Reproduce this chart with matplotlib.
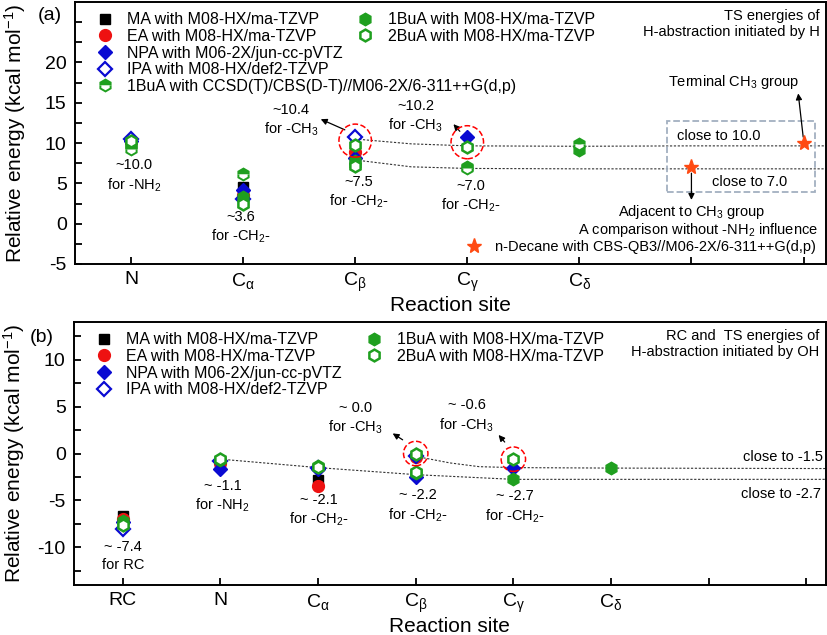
import matplotlib
matplotlib.use('Agg')
import matplotlib.pyplot as plt
from matplotlib.lines import Line2D
from matplotlib.legend import Legend
from matplotlib.patches import Ellipse, Rectangle

plt.rcParams['font.family'] = ['Liberation Sans', 'DejaVu Sans']
plt.rcParams['mathtext.fontset'] = 'custom'
plt.rcParams['mathtext.rm'] = 'Liberation Sans'
plt.rcParams['mathtext.it'] = 'Liberation Sans:italic'
plt.rcParams['axes.unicode_minus'] = False

# ---- panel (a): TS energies, H + amines ----
sites_a = ['N', r'$\mathregular{C_{α}}$', r'$\mathregular{C_{β}}$', r'$\mathregular{C_{γ}}$',
           r'$\mathregular{C_{δ}}$', '', '']
ma_x_a, ma_y_a = [1, 2], [10.0, 4.6]
ea_x_a, ea_y_a = [1, 2, 3], [10.1, 3.6, 8.9]
npa_x_a, npa_y_a = [1, 2, 3, 4], [10.2, 4.2, 8.1, 10.7]
ipa_x_a, ipa_y_a = [1, 2, 3], [10.5, 3.0, 10.7]
bua1_x_a, bua1_y_a = [1, 2, 3, 4, 5], [9.8, 3.3, 7.8, 7.0, 9.1]
ccsd_x_a, ccsd_y_a = [1, 2, 3, 4, 5], [9.3, 6.2, 7.4, 6.9, 9.9]
bua2_x_a, bua2_y_a = [1, 2, 3, 3, 4], [10.3, 2.5, 9.8, 7.2, 9.5]
decane_x, decane_y = [6, 7], [7.0, 10.0]
trend_hi_a_x, trend_hi_a_y = [3, 3.5, 4, 5, 6, 7.2], [10.5, 9.9, 9.65, 9.6, 9.65, 9.65]
trend_lo_a_x, trend_lo_a_y = [3, 3.5, 4, 5, 6, 7.2], [7.9, 7.05, 6.85, 6.8, 6.8, 6.8]

# ---- panel (b): RC and TS energies, OH + amines ----
sites_b = ['RC', 'N', r'$\mathregular{C_{α}}$', r'$\mathregular{C_{β}}$', r'$\mathregular{C_{γ}}$',
           r'$\mathregular{C_{δ}}$', '', '']
ma_x_b, ma_y_b = [1, 2, 3], [-6.6, -1.0, -2.8]
ea_x_b, ea_y_b = [1, 2, 3, 4], [-7.0, -1.0, -3.5, -0.4]
npa_x_b, npa_y_b = [1, 2, 3, 4, 5], [-7.3, -1.7, -1.6, -2.5, -1.5]
ipa_x_b, ipa_y_b = [1, 2, 3, 4], [-8.0, -0.8, -1.5, -0.3]
bua1_x_b, bua1_y_b = [1, 2, 3, 4, 5, 6], [-7.2, -0.7, -1.3, -2.1, -2.7, -1.5]
bua2_x_b, bua2_y_b = [1, 2, 3, 4, 4, 5], [-7.6, -0.6, -1.4, -0.1, -2.0, -0.6]
trend_hi_b_x, trend_hi_b_y = [4, 4.35, 4.65, 5, 6, 8.2], [-0.3, -1.0, -1.4, -1.5, -1.55, -1.6]
trend_lo_b_x, trend_lo_b_y = [2, 3, 4, 5, 6, 8.2], [-0.6, -1.5, -2.25, -2.75, -2.75, -2.75]

BLACK = 'black'
RED = '#ee1111'
BLUE = '#0a0ad2'
GREEN = '#1f9f1f'
STAR = '#ff4a12'

styles = {
    'MA': dict(marker='s', color=BLACK, ms=7.5, ls='none'),
    'EA': dict(marker='o', color=RED, ms=8.5, ls='none'),
    'NPA': dict(marker='D', color=BLUE, ms=7.5, ls='none'),
    'IPA': dict(marker='D', color=BLUE, mfc='white', mew=1.6, ms=7.5, ls='none'),
    '1BuA': dict(marker='h', color=GREEN, ms=9, ls='none'),
    'CCSD': dict(marker='h', color=GREEN, fillstyle='top', mfcalt='white', mew=1.4, ms=8.5, ls='none'),
    '2BuA': dict(marker='h', color=GREEN, mfc='white', mew=1.8, ms=8.5, ls='none'),
}
labels = {
    'MA': 'MA with M08-HX/ma-TZVP',
    'EA': 'EA with M08-HX/ma-TZVP',
    'NPA': 'NPA with M06-2X/jun-cc-pVTZ',
    'IPA': 'IPA with M08-HX/def2-TZVP',
    '1BuA': '1BuA with M08-HX/ma-TZVP',
    'CCSD': '1BuA with CCSD(T)/CBS(D-T)//M06-2X/6-311++G(d,p)',
    '2BuA': '2BuA with M08-HX/ma-TZVP',
}
LEG_FS = 11.5
TXT_FS = 10.5
ARROW = dict(arrowstyle='-|>', color='black', lw=0.9, mutation_scale=9)


def style_axes(ax, sites, ylim, yticks, yminor):
    ax.set_xlim(0.5, len(sites) + 0.2)
    ax.set_ylim(*ylim)
    ax.set_xticks(range(1, len(sites) + 1))
    ax.set_xticklabels(sites, fontsize=14)
    ax.set_yticks(yticks)
    ax.set_yticks(yminor, minor=True)
    ax.tick_params(axis='y', labelsize=14, pad=6)
    ax.tick_params(axis='x', pad=5)
    ax.tick_params(which='both', direction='in', length=5, width=1.3, top=False, right=False)
    ax.tick_params(axis='x', which='minor', bottom=False)
    for s in ax.spines.values():
        s.set_linewidth(1.4)
    ax.set_xlabel('Reaction site', fontsize=15, labelpad=1)
    ax.set_ylabel(r'Relative energy (kcal mol$^{\mathregular{-1}}$)', fontsize=15)
    ax.yaxis.set_label_coords(-0.062, 0.5)


def legends(ax, keys1, keys2, x2):
    for keys, x0 in [(keys1, 0.015), (keys2, x2)]:
        hs = [Line2D([], [], **styles[k]) for k in keys]
        leg = Legend(ax, hs, [labels[k] for k in keys], loc='upper left', bbox_to_anchor=(x0, 1.0),
                     frameon=False, fontsize=LEG_FS, handlelength=1.0, handletextpad=0.9,
                     labelspacing=0.1, borderaxespad=0.25)
        ax.add_artist(leg)


fig = plt.figure(figsize=(8.27, 6.35), dpi=100)
ax1 = fig.add_axes([0.0907, 0.5843, 0.908, 0.4126])
ax2 = fig.add_axes([0.0895, 0.0787, 0.909, 0.4142])

# ---------- (a) ----------
ax = ax1
ax.plot(trend_hi_a_x, trend_hi_a_y, ls=(0, (2, 1.5)), color='#333333', lw=0.8, zorder=1)
ax.plot(trend_lo_a_x, trend_lo_a_y, ls=(0, (2, 1.5)), color='#333333', lw=0.8, zorder=1)
ax.plot(ma_x_a, ma_y_a, **styles['MA'])
ax.plot(ea_x_a, ea_y_a, **styles['EA'])
ax.plot(npa_x_a, npa_y_a, **styles['NPA'])
ax.plot(ipa_x_a, ipa_y_a, **styles['IPA'])
ax.plot(bua1_x_a, bua1_y_a, **styles['1BuA'])
ax.plot(ccsd_x_a, ccsd_y_a, **styles['CCSD'])
ax.plot(bua2_x_a, bua2_y_a, **styles['2BuA'])
star, = ax.plot(decane_x, decane_y, marker='*', color=STAR, ms=11, ls='none', zorder=4)

for xc, yc in [(3, 10.3), (4, 10.1)]:
    ax.add_patch(Ellipse((xc, yc), 0.29, 4.1, fill=False, ec='red', ls='--', lw=1.1, zorder=5))
ax.add_patch(Rectangle((5.78, 3.9), 1.32, 8.85, fill=False, ec='#a3b0c0', ls='--', lw=1.3, zorder=1))

ax.text(1.03, 5.9, '~10.0\nfor -NH$_\\mathregular{2}$', ha='center', va='center', fontsize=TXT_FS, linespacing=1.3)
ax.text(1.98, -0.5, '~3.6\nfor -CH$_\\mathregular{2}$-', ha='center', va='center', fontsize=TXT_FS, linespacing=1.3)
ax.text(3.03, 3.9, '~7.5\nfor -CH$_\\mathregular{2}$-', ha='center', va='center', fontsize=TXT_FS, linespacing=1.3)
ax.text(4.03, 3.4, '~7.0\nfor -CH$_\\mathregular{2}$-', ha='center', va='center', fontsize=TXT_FS, linespacing=1.3)
ax.text(2.43, 12.8, '~10.4\nfor -CH$_\\mathregular{3}$', ha='center', va='center', fontsize=TXT_FS, linespacing=1.3)
ax.annotate('', xy=(2.67, 13.1), xytext=(2.93, 11.5), arrowprops=ARROW)
ax.text(3.54, 13.3, '~10.2\nfor -CH$_\\mathregular{3}$', ha='center', va='center', fontsize=TXT_FS, linespacing=1.3)
ax.annotate('', xy=(3.86, 12.6), xytext=(3.95, 11.2), arrowprops=ARROW)
ax.text(6.38, 17.6, 'Terminal CH$_\\mathregular{3}$ group', ha='center', va='center', fontsize=TXT_FS)
ax.annotate('', xy=(6.95, 16.5), xytext=(7.0, 10.4), arrowprops=ARROW)
ax.text(5.87, 10.9, 'close to 10.0', ha='left', va='center', fontsize=TXT_FS)
ax.text(6.52, 5.2, 'close to 7.0', ha='center', va='center', fontsize=TXT_FS)
ax.annotate('', xy=(6.0, 2.6), xytext=(6.0, 6.6), arrowprops=ARROW)
ax.text(6.0, 1.4, 'Adjacent to CH$_\\mathregular{3}$ group', ha='center', va='center', fontsize=TXT_FS)
ax.text(7.13, -0.75, 'A comparison without -NH$_\\mathregular{2}$ influence', ha='right', va='center', fontsize=TXT_FS)
ax.text(0.992, 0.975, 'TS energies of\nH-abstraction initiated by H', transform=ax.transAxes,
        ha='right', va='top', fontsize=TXT_FS, linespacing=1.25)
ax.text(-0.033, 0.95, '(a)', transform=ax.transAxes, ha='center', va='center', fontsize=14)

style_axes(ax, sites_a, (-5, 27.5), [-5, 0, 5, 10, 15, 20], [-2.5, 2.5, 7.5, 12.5, 17.5, 22.5, 25])
legends(ax, ['MA', 'EA', 'NPA', 'IPA', 'CCSD'], ['1BuA', '2BuA'], 0.362)
ax.legend([star], ['n-Decane with CBS-QB3//M06-2X/6-311++G(d,p)'], loc='lower right',
          bbox_to_anchor=(1.0, 0.0), frameon=False, fontsize=TXT_FS, handlelength=1.0,
          handletextpad=0.9, borderaxespad=0.3)

# ---------- (b) ----------
ax = ax2
ax.plot(trend_hi_b_x, trend_hi_b_y, ls=(0, (2, 1.5)), color='#333333', lw=0.8, zorder=1)
ax.plot(trend_lo_b_x, trend_lo_b_y, ls=(0, (2, 1.5)), color='#333333', lw=0.8, zorder=1)
ax.plot(ma_x_b, ma_y_b, **styles['MA'])
ax.plot(ea_x_b, ea_y_b, **styles['EA'])
ax.plot(npa_x_b, npa_y_b, **styles['NPA'])
ax.plot(ipa_x_b, ipa_y_b, **styles['IPA'])
ax.plot(bua1_x_b, bua1_y_b, **styles['1BuA'])
ax.plot(bua2_x_b, bua2_y_b, **styles['2BuA'])

for xc, yc in [(4, 0.0), (5, -0.6)]:
    ax.add_patch(Ellipse((xc, yc), 0.25, 2.6, fill=False, ec='red', ls='--', lw=1.1, zorder=5))

ax.text(1.0, -10.9, '~ -7.4\nfor RC', ha='center', va='center', fontsize=TXT_FS, linespacing=1.3)
ax.text(2.02, -4.6, '~ -1.1\nfor -NH$_\\mathregular{2}$', ha='center', va='center', fontsize=TXT_FS, linespacing=1.3)
ax.text(3.01, -6.1, '~ -2.1\nfor -CH$_\\mathregular{2}$-', ha='center', va='center', fontsize=TXT_FS, linespacing=1.3)
ax.text(4.02, -5.6, '~ -2.2\nfor -CH$_\\mathregular{2}$-', ha='center', va='center', fontsize=TXT_FS, linespacing=1.3)
ax.text(5.02, -5.7, '~ -2.7\nfor -CH$_\\mathregular{2}$-', ha='center', va='center', fontsize=TXT_FS, linespacing=1.3)
ax.text(3.38, 3.7, '~ 0.0\nfor -CH$_\\mathregular{3}$', ha='center', va='center', fontsize=TXT_FS, linespacing=1.3)
ax.annotate('', xy=(3.74, 2.3), xytext=(3.89, 1.3), arrowprops=ARROW)
ax.text(4.52, 4.0, '~ -0.6\nfor -CH$_\\mathregular{3}$', ha='center', va='center', fontsize=TXT_FS, linespacing=1.3)
ax.annotate('', xy=(4.83, 2.2), xytext=(4.93, 1.0), arrowprops=ARROW)
ax.text(8.17, -0.4, 'close to -1.5', ha='right', va='center', fontsize=TXT_FS)
ax.text(8.15, -4.3, 'close to -2.7', ha='right', va='center', fontsize=TXT_FS)
ax.text(0.992, 0.975, 'RC and  TS energies of\nH-abstraction initiated by OH', transform=ax.transAxes,
        ha='right', va='top', fontsize=TXT_FS, linespacing=1.25)
ax.text(-0.043, 0.94, '(b)', transform=ax.transAxes, ha='center', va='center', fontsize=14)

style_axes(ax, sites_b, (-14, 14), [-10, -5, 0, 5, 10], [-12.5, -7.5, -2.5, 2.5, 7.5, 12.5])
legends(ax, ['MA', 'EA', 'NPA', 'IPA'], ['1BuA', '2BuA'], 0.375)

fig.savefig('out.png', dpi=100)
